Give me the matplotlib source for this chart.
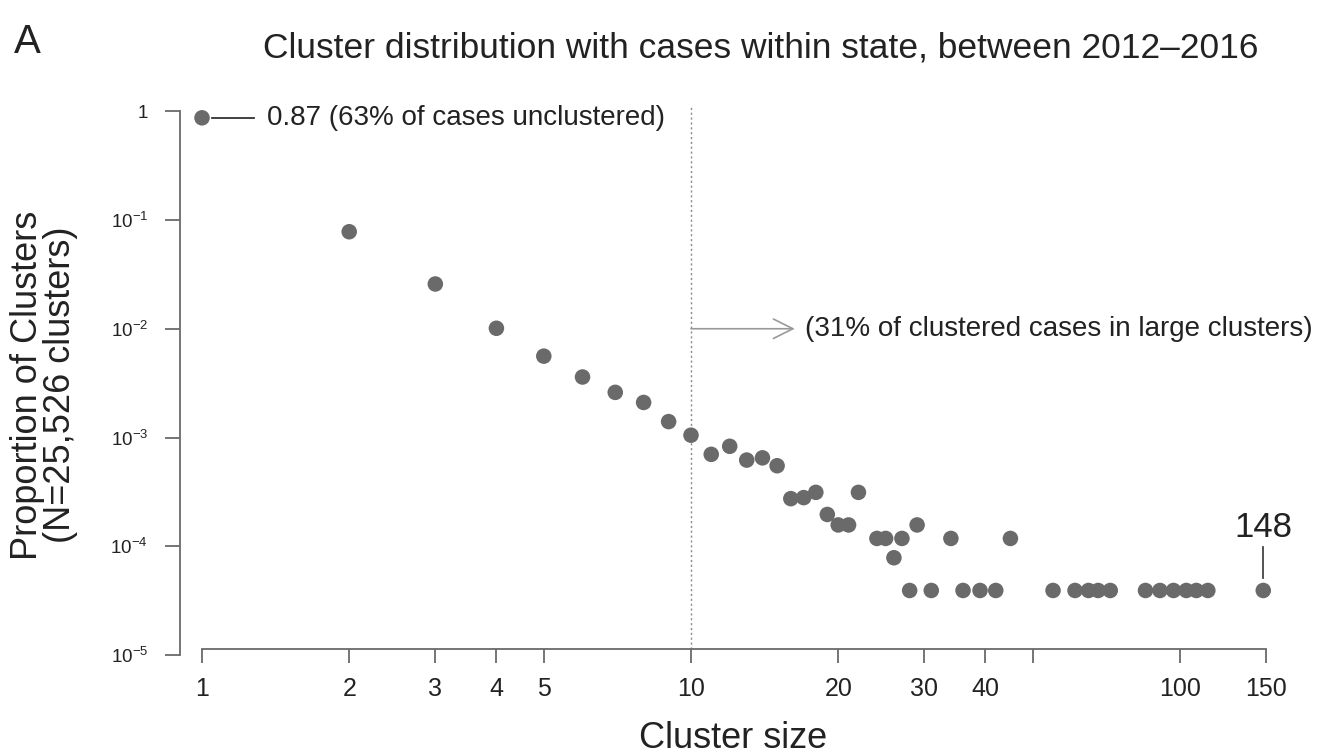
import matplotlib
matplotlib.use('Agg')
import matplotlib.pyplot as plt
import numpy as np

plt.rcParams['font.family'] = ['Liberation Sans', 'DejaVu Sans']
plt.rcParams['mathtext.default'] = 'regular'

# Data: cluster size vs. proportion of clusters
sizes = [1, 2, 3, 4, 5, 6, 7, 8, 9, 10, 11, 12, 13, 14, 15, 16, 17, 18, 19,
         20, 21, 22, 24, 25, 26, 27, 28, 29, 31, 34, 36, 39, 42, 45, 55, 61,
         65, 68, 72, 85, 91, 97, 103, 108, 114, 148]
props = [0.87, 0.078, 0.0258, 0.0101, 0.0056, 0.0036, 0.0026, 0.0021, 0.0014,
         0.00105, 0.00070, 0.00083, 0.00062, 0.00065, 0.00055, 0.000274,
         0.000280, 0.000313, 0.000196, 0.000157, 0.000157, 0.000313,
         0.000118, 0.000118, 0.0000784, 0.000118, 0.0000392, 0.000157,
         0.0000392, 0.000118, 0.0000392, 0.0000392, 0.0000392, 0.000118,
         0.0000392, 0.0000392, 0.0000392, 0.0000392, 0.0000392, 0.0000392,
         0.0000392, 0.0000392, 0.0000392, 0.0000392, 0.0000392, 0.0000392]

x_ticks = [1, 2, 3, 4, 5, 10, 20, 30, 40, 50, 100, 150]
x_labels = ['1', '2', '3', '4', '5', '10', '20', '30', '40', '', '100', '150']
y_ticks = [1e-5, 1e-4, 1e-3, 1e-2, 1e-1, 1]
y_labels = ['$10^{-5}$', '$10^{-4}$', '$10^{-3}$', '$10^{-2}$', '$10^{-1}$', '1']

W, H = 1322, 755
fig = plt.figure(figsize=(W / 100, H / 100), dpi=100)
# axes box in pixels: left 170, right 1290, top 100, bottom 655
ax = fig.add_axes([170 / W, 1 - 655 / H, 1120 / W, 555 / H])
ax.set_xscale('log')
ax.set_yscale('log')
ax.set_xlim(10 ** ((170 - 202) / 489), 10 ** ((1290 - 202) / 489))
ax.set_ylim(1e-5, 10 ** (-1 + 120 / 108.75))

axis_col = '#6a6a6a'
txt_col = '#222222'
ax.spines['top'].set_visible(False)
ax.spines['right'].set_visible(False)
ax.spines['left'].set_position(('data', 10 ** (-22 / 489)))
ax.spines['left'].set_bounds(1e-5, 1)
ax.spines['bottom'].set_position(('data', 10 ** (-1 - 429 / 108.75)))
ax.spines['bottom'].set_bounds(1, 150)
for s in ('left', 'bottom'):
    ax.spines[s].set_color(axis_col)
    ax.spines[s].set_linewidth(1.3)

ax.set_xticks(x_ticks)
ax.set_xticklabels(x_labels)
ax.xaxis.set_minor_locator(matplotlib.ticker.NullLocator())
ax.set_yticks(y_ticks)
ax.set_yticklabels(y_labels)
ax.yaxis.set_minor_locator(matplotlib.ticker.NullLocator())
ax.tick_params(axis='x', length=10, width=1.3, color=axis_col, labelsize=18,
               pad=10, labelcolor=txt_col)
ax.tick_params(axis='y', length=11, width=1.3, color=axis_col, labelsize=13.5,
               pad=12, labelcolor=txt_col)

# vertical dotted line at cluster size 10
ax.plot([10, 10], [10 ** (-1 - 429 / 108.75), 10 ** 0.05], color='#888888',
        linestyle=(0, (1.5, 2)), linewidth=1)

# points
ax.scatter(sizes, props, s=125, color='#6a6a6a', edgecolors='none', zorder=3,
           clip_on=False)

# annotations
ax.plot([1.05, 1.28], [0.87, 0.87], color='#333333', linewidth=1.3)
ax.text(1.36, 0.87, '0.87 (63% of cases unclustered)', fontsize=20,
        va='center', ha='left', color=txt_col)
ax.annotate('', xy=(16.3, 0.01), xytext=(10, 0.01),
            arrowprops=dict(arrowstyle='->,head_length=1.4,head_width=0.7',
                            color='#999999', linewidth=1.2,
                            shrinkA=0, shrinkB=0))
ax.text(17.1, 0.01, '(31% of clustered cases in large clusters)', fontsize=20,
        va='center', ha='left', color=txt_col)
ax.plot([148, 148], [0.0000392 * 1.3, 0.000078 * 1.25], color='#444444',
        linewidth=1.3)
ax.text(148, 0.000148, '148', fontsize=25, ha='center', va='center',
        color=txt_col)

fig.text(733 / W, 1 - 738 / H, 'Cluster size', fontsize=26, ha='center',
         va='center', color=txt_col)
fig.text(44 / W, 1 - 385 / H, 'Proportion of Clusters\n(N=25,526 clusters)',
         rotation=90, fontsize=26, ha='center', va='center',
         linespacing=0.95, color=txt_col)
fig.text(761 / W, 1 - 48 / H,
         'Cluster distribution with cases within state, between 2012\u20132016',
         fontsize=25.5, ha='center', va='center', color=txt_col)
fig.text(14 / W, 1 - 42 / H, 'A', fontsize=29, ha='left', va='center',
         color=txt_col)

fig.savefig('out.png', dpi=100)
